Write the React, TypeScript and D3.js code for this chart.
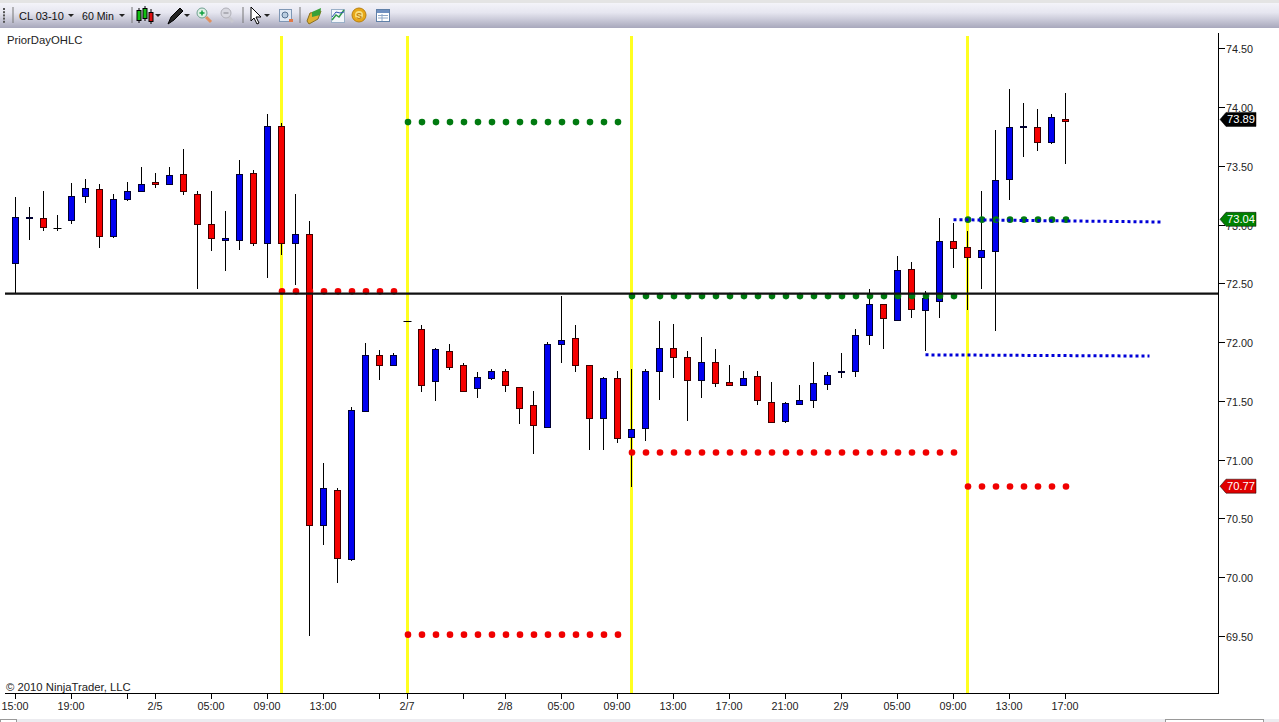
import * as d3 from 'd3'

// 60 minute bars, CL 03-10
const opens = [72.68, 73.06, 73.06, 72.98, 73.05, 73.25, 73.31, 72.91, 73.23, 73.29, 73.37, 73.35, 73.44, 73.27, 73.01, 72.88, 72.88, 73.45, 72.85, 73.85, 72.85, 72.93, 70.45, 70.75, 70.16, 71.42, 71.9, 71.81, 72.19, 72.12, 71.68, 71.93, 71.81, 71.62, 71.7, 71.76, 71.63, 71.47, 71.29, 71.99, 72.04, 71.81, 71.36, 71.7, 71.2, 71.28, 71.76, 71.96, 71.88, 71.69, 71.84, 71.67, 71.64, 71.72, 71.5, 71.34, 71.48, 71.52, 71.65, 71.75, 71.76, 72.07, 72.33, 72.2, 72.63, 72.28, 72.36, 72.87, 72.82, 72.73, 72.78, 73.4, 73.84, 73.84, 73.71, 73.91]
const highs = [73.24, 73.16, 73.29, 73.09, 73.36, 73.4, 73.35, 73.27, 73.37, 73.5, 73.45, 73.5, 73.65, 73.29, 73.29, 73.12, 73.56, 73.47, 73.95, 73.87, 73.27, 73.04, 70.98, 70.77, 71.46, 72.0, 71.94, 71.92, 72.19, 72.15, 71.96, 71.99, 71.83, 71.75, 71.78, 71.78, 71.63, 71.59, 72.01, 72.4, 72.15, 71.81, 71.71, 71.76, 71.78, 71.78, 72.19, 72.16, 71.93, 72.05, 71.95, 71.81, 71.76, 71.76, 71.67, 71.5, 71.64, 71.84, 71.75, 71.92, 72.12, 72.46, 72.33, 72.74, 72.69, 72.44, 73.06, 73.02, 72.95, 73.29, 73.81, 74.16, 74.04, 73.99, 73.95, 74.13]
const lows = [72.43, 72.88, 72.95, 72.95, 73.01, 73.19, 72.81, 72.89, 73.21, 73.29, 73.32, 73.35, 73.26, 72.46, 72.78, 72.61, 72.79, 72.83, 72.55, 72.75, 72.49, 69.51, 70.28, 69.96, 70.15, 71.41, 71.69, 71.81, 72.19, 71.58, 71.51, 71.77, 71.59, 71.53, 71.69, 71.58, 71.31, 71.06, 71.28, 71.83, 71.75, 71.09, 71.09, 71.15, 70.78, 71.17, 71.52, 71.7, 71.34, 71.53, 71.63, 71.64, 71.64, 71.47, 71.33, 71.32, 71.47, 71.45, 71.6, 71.7, 71.71, 71.98, 71.95, 72.19, 72.21, 71.93, 72.21, 72.64, 72.28, 72.46, 72.1, 73.22, 73.58, 73.63, 73.69, 73.52]
const closes = [73.07, 73.07, 72.99, 72.98, 73.25, 73.32, 72.91, 73.23, 73.29, 73.35, 73.35, 73.43, 73.29, 73.01, 72.89, 72.89, 73.44, 72.85, 73.85, 72.85, 72.93, 70.45, 70.77, 70.17, 71.43, 71.9, 71.81, 71.9, 72.19, 71.64, 71.95, 71.8, 71.59, 71.71, 71.76, 71.64, 71.45, 71.3, 71.99, 72.03, 71.81, 71.36, 71.7, 71.19, 71.27, 71.76, 71.96, 71.88, 71.69, 71.84, 71.66, 71.64, 71.7, 71.52, 71.33, 71.49, 71.52, 71.66, 71.73, 71.76, 72.07, 72.33, 72.21, 72.62, 72.29, 72.38, 72.87, 72.81, 72.73, 72.79, 73.39, 73.84, 73.85, 73.71, 73.92, 73.89]

// bar index of each time axis tick, '' means a tick with no label
const xTickBars = [0, 4, 8, 10, 14, 18, 22, 26, 28, 32, 35, 39, 43, 47, 51, 55, 59, 63, 67, 71, 75]
const xTickLabels = ['15:00', '19:00', '', '2/5', '05:00', '09:00', '13:00', '', '2/7', '', '2/8', '05:00', '09:00', '13:00', '17:00', '21:00', '2/9', '05:00', '09:00', '13:00', '17:00']
const yTicks = [69.5, 70, 70.5, 71, 71.5, 72, 72.5, 73, 73.5, 74, 74.5]

// new session markers
const sessionBars = [19, 28, 44, 68]

// PriorDayOHLC dots: [first bar, last bar, price]
const priorHighs = [[28, 43, 73.88], [44, 67, 72.4], [68, 75, 73.05]]
const priorLows = [[19, 27, 72.44], [28, 43, 69.52], [44, 67, 71.07], [68, 75, 70.78]]

// drawn lines
const horizontalLevel = 72.42
const trendUpper = [[67, 73.05], [82, 73.03]]
const trendLower = [[65, 71.9], [81, 71.89]]

// last value flags
const flags = [
	{ value: 73.89, color: '#000000' },
	{ value: 73.04, color: '#008000' },
	{ value: 70.77, color: '#e00000' },
]

const x = d3.scaleLinear().domain([0, 75]).range([15.5, 1065.5])
const y = d3.scaleLinear().domain([69.5, 74.5]).range([637, 49.2])
const px = (v) => Math.round(y(v))

const font = '"Liberation Sans", Arial, sans-serif'
const trendLine = d3.line().x((d) => x(d[0])).y((d) => y(d[1]))

const Candles = () => (
	<g>
		{opens.map((open, i) => {
			const close = closes[i]
			const cx = x(i)
			const top = px(Math.max(open, close))
			const bottom = px(Math.min(open, close))
			return (
				<g key={i}>
					<line x1={cx} x2={cx} y1={px(highs[i])} y2={px(lows[i])} stroke="#000" />
					{open === close ? (
						<line x1={cx - 4} x2={cx + 4} y1={top + 0.5} y2={top + 0.5} stroke="#000" />
					) : (
						<rect
							x={cx - 3}
							y={top + 0.5}
							width={6}
							height={Math.max(1, bottom - top)}
							fill={close > open ? '#0000f0' : '#f50000'}
							stroke={close > open ? '#000030' : '#400000'}
						/>
					)}
				</g>
			)
		})}
	</g>
)

const Dots = ({ rows, color }) => (
	<g>
		{rows.map(([first, last, price]) =>
			d3.range(first, last + 1).map((i) => (
				<circle key={`${first}-${i}`} cx={x(i) + 0.5} cy={y(price)} r={3.3} fill={color} />
			))
		)}
	</g>
)

const Toolbar = () => (
	<g>
		<rect x={0} y={0} width={1279} height={28} fill="url(#toolbarFill)" />
		<rect x={0} y={0} width={1279} height={3} fill="#e4e4e4" />
		{d3.range(5).map((i) => (
			<rect key={i} x={3} y={8 + i * 3.2} width={2} height={2} fill="#555" />
		))}
		{[13, 132, 243, 300].map((sx) => (
			<line key={sx} x1={sx} x2={sx} y1={7} y2={23} stroke="#777" />
		))}
		<text x={19} y={19.5} fontSize={11} fontFamily={font} fill="#111">CL 03-10</text>
		<text x={82} y={19.5} fontSize={10.6} fontFamily={font} fill="#111">60 Min</text>
		{[71, 122, 158, 187, 267].map((ax) => (
			<path key={ax} d={`M${ax - 3},14 h6 l-3,3 z`} fill="#222" />
		))}
		{/* candle icon */}
		<line x1={139} x2={139} y1={8} y2={23} stroke="#000" />
		<rect x={137} y={10.5} width={4} height={10} fill="#12c012" stroke="#000" />
		<line x1={145} x2={145} y1={6} y2={21} stroke="#000" />
		<rect x={143} y={8.5} width={4} height={10} fill="#12c012" stroke="#000" />
		<line x1={151} x2={151} y1={9} y2={24} stroke="#000" />
		<rect x={149} y={12.5} width={4} height={9} fill="#e01010" stroke="#000" />
		{/* pencil */}
		<path d="M168,24 L171,17 L180,8 L183,11 L174,20 Z" fill="#222" stroke="#000" />
		{/* zoom in and out */}
		<line x1={206} x2={211} y1={17} y2={22} stroke="#e09060" strokeWidth={3} />
		<circle cx={202} cy={13} r={5} fill="#dff0e6" stroke="#70a090" />
		<path d="M199.5,13 h5 M202,10.5 v5" stroke="#10a040" strokeWidth={1.5} />
		<line x1={229} x2={233} y1={17} y2={22} stroke="#c8c8d0" strokeWidth={3} />
		<circle cx={226} cy={13} r={5} fill="#d8d8e0" stroke="#b0b0b8" />
		<path d="M223.5,13 h5" stroke="#a0a0a8" strokeWidth={1.5} />
		{/* cursor */}
		<path d="M251,7 L251,21 L254,18 L257,24 L259,23 L256,17 L261,17 Z" fill="#fff" stroke="#000" />
		{/* chart properties */}
		<rect x={279.5} y={9.5} width={12} height={12} fill="#dfe8f4" stroke="#7f97b5" />
		<circle cx={285} cy={15} r={3} fill="#b8cce0" stroke="#55708f" />
		<rect x={289} y={19} width={4} height={3} fill="#e07848" />
		{/* folder */}
		<path d="M307,21 L310,13 L321,11 L318,19 L309,24 Z" fill="#e0b030" stroke="#8a7020" />
		<path d="M312,12 L321,8 L320,15 L312,17 Z" fill="#38a038" />
		{/* chart icon */}
		<rect x={331.5} y={9.5} width={13} height={13} fill="#f2f6fa" stroke="#9ab0c8" />
		<path d="M332,20 L336,15 L339,17 L344,10" fill="none" stroke="#2f9a4a" strokeWidth={1.5} />
		<path d="M332,17 L336,12 L340,13 L344,12" fill="none" stroke="#3050b0" />
		{/* coin */}
		<circle cx={359} cy={15} r={7} fill="#e8a818" stroke="#b88010" />
		<circle cx={359} cy={15} r={4} fill="#f8e080" />
		<text x={359} y={18.5} fontSize={9} textAnchor="middle" fontFamily={font} fontWeight="bold" fill="#c08010">S</text>
		{/* table */}
		<rect x={376.5} y={9.5} width={13} height={12} fill="#ffffff" stroke="#6080a8" />
		<rect x={377} y={10} width={12} height={3} fill="#7090c0" />
		<path d="M378,15.5 h10 M378,18 h10 M382,14 v7" stroke="#90a8c8" />
	</g>
)

export default function App() {
	return (
		<svg
			width={1279}
			height={722}
			viewBox="0 0 1279 722"
			style={{ position: 'fixed', left: 0, top: 0, display: 'block', background: '#fff' }}
		>
			<defs>
				<linearGradient id="toolbarFill" x1="0" x2="0" y1="0" y2="1">
					<stop offset="0" stopColor="#f8f8fc" />
					<stop offset="0.45" stopColor="#e6e6f0" />
					<stop offset="1" stopColor="#a8a8bc" />
				</linearGradient>
			</defs>

			<Toolbar />

			<text x={7} y={44} fontSize={11.3} fontFamily={font} fill="#222">PriorDayOHLC</text>
			<text x={6} y={691} fontSize={11.3} fontFamily={font} fill="#222">© 2010 NinjaTrader, LLC</text>

			{sessionBars.map((i) => (
				<line key={i} x1={x(i)} x2={x(i)} y1={36} y2={693} stroke="#ffff20" strokeWidth={3} />
			))}

			<Candles />
			<Dots rows={priorHighs} color="#007a10" />
			<Dots rows={priorLows} color="#f00000" />

			<path d={trendLine(trendUpper)} fill="none" stroke="#0000d8" strokeWidth={3} strokeDasharray="3 3" />
			<path d={trendLine(trendLower)} fill="none" stroke="#0000d8" strokeWidth={3} strokeDasharray="3 3" />

			<line x1={5} x2={1218} y1={y(horizontalLevel)} y2={y(horizontalLevel)} stroke="#111" strokeWidth={2.2} />

			{/* price axis */}
			<line x1={1218.5} x2={1218.5} y1={33} y2={694} stroke="#000" />
			{yTicks.map((t) => (
				<g key={t}>
					<line x1={1219} x2={1225} y1={Math.round(y(t)) - 0.5} y2={Math.round(y(t)) - 0.5} stroke="#000" />
					<text x={1226} y={y(t) + 4} fontSize={10.8} fontFamily={font} fill="#222">{d3.format('.2f')(t)}</text>
				</g>
			))}

			{/* time axis */}
			<line x1={5} x2={1219} y1={693.5} y2={693.5} stroke="#000" />
			{xTickBars.map((b, i) => (
				<g key={b}>
					<line x1={x(b)} x2={x(b)} y1={694} y2={699} stroke="#000" />
					<text x={x(b) - 0.5} y={710} fontSize={10.8} textAnchor="middle" fontFamily={font} fill="#222">{xTickLabels[i]}</text>
				</g>
			))}

			{/* value flags */}
			{flags.map((f) => {
				const fy = y(f.value) - 1.5
				return (
					<g key={f.value}>
						<path d={`M1220,${fy} L1226,${fy - 7} H1256 V${fy + 7} H1226 Z`} fill={f.color} stroke="#000" strokeWidth={0.5} />
						<text x={1227} y={fy + 4} fontSize={11.2} fontFamily={font} fill="#fff">{f.value.toFixed(2)}</text>
					</g>
				)
			})}

			{/* bottom strip */}
			<rect x={0} y={719} width={1279} height={3} fill="#ececf0" />
			<rect x={1165.5} y={719.5} width={98} height={4} fill="#fff" stroke="#999" />
			<rect x={0.5} y={719.5} width={16} height={4} fill="#fff" stroke="#999" />
		</svg>
	)
}
